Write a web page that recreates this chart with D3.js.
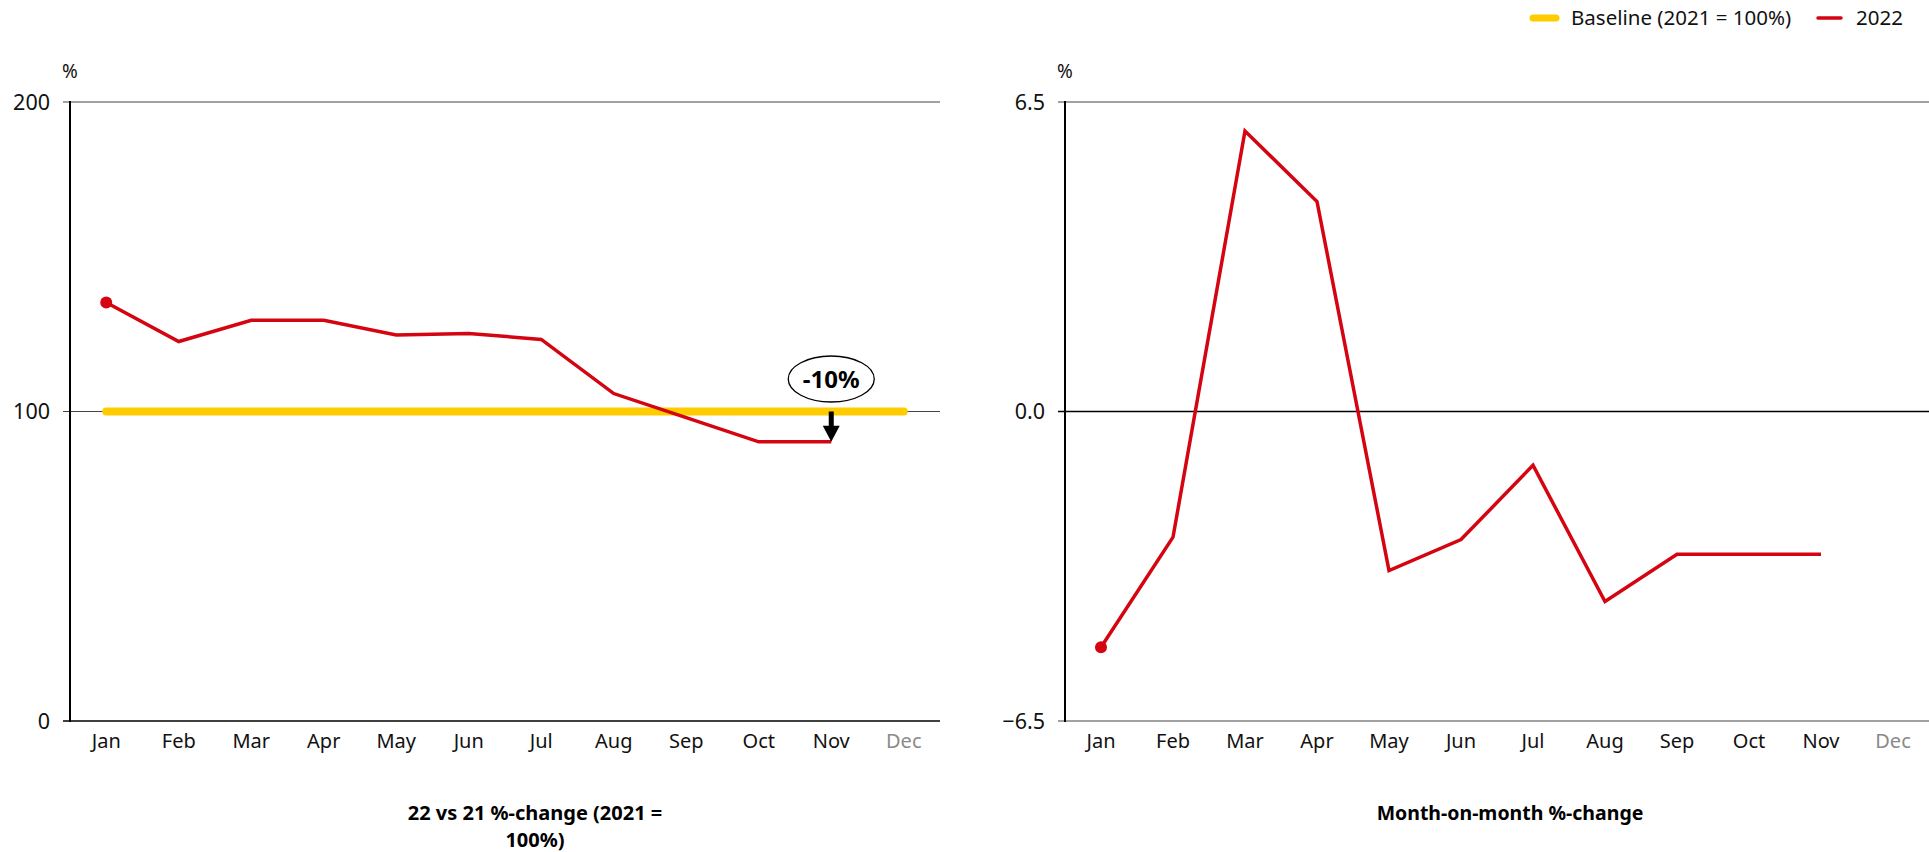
<!DOCTYPE html>
<html>
<head>
<meta charset="utf-8">
<script src="https://cdn.jsdelivr.net/npm/d3@7"></script>
<style>
  body { margin: 0; background: #fff; }
  svg { display: block; font-family: "Noto Sans", "Open Sans", sans-serif; }
</style>
</head>
<body>
<svg id="chart" width="1929" height="852"></svg>
<script>
const months = ["Jan","Feb","Mar","Apr","May","Jun","Jul","Aug","Sep","Oct","Nov","Dec"];
const dataMonths = ["Jan","Feb","Mar","Apr","May","Jun","Jul","Aug","Sep","Oct","Nov"];
const yoyValues = [135.2, 122.6, 129.5, 129.5, 124.7, 125.2, 123.3, 105.8, 98.0, 90.2, 90.2];
const baselineValues = [100,100,100,100,100,100,100,100,100,100,100,100];
const momValues = [-4.95, -2.64, 5.89, 4.41, -3.34, -2.69, -1.13, -3.99, -3.0, -3.0, -3.0];
const leftTicks = [0, 100, 200];
const rightTicks = [-6.5, 0, 6.5];
const leftTitle = ["22 vs 21 %-change (2021 =", "100%)"];
const rightTitle = ["Month-on-month %-change"];
const legendItems = [{label: "Baseline (2021 = 100%)", color: "#ffcc00", w: 7}, {label: "2022", color: "#d40511", w: 3.5}];
const annotationText = "-10%";

const RED = "#d40511", YELLOW = "#ffcc00";
const svg = d3.select("#chart");

function panel(opts) {
  const g = svg.append("g");
  const x = d3.scalePoint().domain(months).range([opts.x0, opts.x1]).padding(0.5);
  const y = d3.scaleLinear().domain(opts.domain).range([721, 102]);

  opts.ticks.forEach(t => {
    g.append("line").attr("x1", opts.x0 - 7).attr("x2", opts.x1)
      .attr("y1", y(t)).attr("y2", y(t))
      .attr("stroke", opts.strong(t) ? "#000" : "#444")
      .attr("stroke-width", opts.strong(t) ? 1.6 : 1);
    g.append("text").attr("x", opts.x0 - 20).attr("y", y(t)).attr("dy", "0.35em")
      .attr("text-anchor", "end").attr("font-size", 21.5).attr("fill", "#111")
      .text(opts.fmt(t));
  });
  g.append("line").attr("x1", opts.x0).attr("x2", opts.x0).attr("y1", 101).attr("y2", 722)
    .attr("stroke", "#000").attr("stroke-width", 2);
  g.append("text").attr("x", opts.x0).attr("y", 78).attr("text-anchor", "middle")
    .attr("font-size", 19).attr("fill", "#111").text("%");
  months.forEach(m => {
    g.append("text").attr("x", x(m)).attr("y", 748).attr("text-anchor", "middle")
      .attr("font-size", 20).attr("fill", m === "Dec" ? "#8a8a8a" : "#111").text(m);
  });
  opts.title.forEach((t, i) => {
    g.append("text").attr("x", opts.titleX).attr("y", 820 + i * 27).attr("text-anchor", "middle")
      .attr("font-size", opts.titleSize).attr("font-weight", "bold").attr("fill", "#000").text(t);
  });
  return {g, x, y};
}

const L = panel({x0: 70, x1: 940, domain: [0, 200], ticks: leftTicks, fmt: d => d,
  strong: t => t === 0, title: leftTitle, titleX: 535, titleSize: 20});

L.g.append("path").datum(months.map((m, i) => [m, baselineValues[i]]))
  .attr("d", d3.line().x(d => L.x(d[0])).y(d => L.y(d[1])))
  .attr("fill", "none").attr("stroke", YELLOW).attr("stroke-width", 8).attr("stroke-linecap", "round");
L.g.append("path").datum(dataMonths.map((m, i) => [m, yoyValues[i]]))
  .attr("d", d3.line().x(d => L.x(d[0])).y(d => L.y(d[1])))
  .attr("fill", "none").attr("stroke", RED).attr("stroke-width", 3.5);
L.g.append("circle").attr("cx", L.x("Jan")).attr("cy", L.y(yoyValues[0])).attr("r", 6).attr("fill", RED);

const ax = L.x("Nov");
const ayTop = L.y(100), ayBot = L.y(yoyValues[10]);
L.g.append("rect").attr("x", ax - 2.5).attr("y", ayTop).attr("width", 5).attr("height", (ayBot - ayTop) - 14).attr("fill", "#000");
L.g.append("path").attr("d", `M${ax - 8.5},${ayBot - 16} L${ax + 8.5},${ayBot - 16} L${ax},${ayBot} Z`).attr("fill", "#000");
L.g.append("ellipse").attr("cx", ax).attr("cy", 379).attr("rx", 43).attr("ry", 23)
  .attr("fill", "#fff").attr("stroke", "#000").attr("stroke-width", 1.3);
L.g.append("text").attr("x", ax).attr("y", 379).attr("dy", "0.36em").attr("text-anchor", "middle")
  .attr("font-size", 24).attr("font-weight", "bold").attr("fill", "#000").text(annotationText);

const R = panel({x0: 1065, x1: 1929, domain: [-6.5, 6.5], ticks: rightTicks, fmt: d3.format(".1f"),
  strong: t => t === 0, title: rightTitle, titleX: 1510, titleSize: 19.5});

R.g.append("path").datum(dataMonths.map((m, i) => [m, momValues[i]]))
  .attr("d", d3.line().x(d => R.x(d[0])).y(d => R.y(d[1])))
  .attr("fill", "none").attr("stroke", RED).attr("stroke-width", 3.5);
R.g.append("circle").attr("cx", R.x("Jan")).attr("cy", R.y(momValues[0])).attr("r", 6).attr("fill", RED);

const lg = svg.append("g");
const lxs = [1530, 1815];
legendItems.forEach((it, i) => {
  const x0 = lxs[i];
  lg.append("line").attr("x1", x0 + 3).attr("x2", x0 + 26).attr("y1", 18).attr("y2", 18)
    .attr("stroke", it.color).attr("stroke-width", it.w).attr("stroke-linecap", "round");
  lg.append("text").attr("x", x0 + 41).attr("y", 18).attr("dy", "0.35em")
    .attr("font-size", 20.5).attr("fill", "#111").text(it.label);
});
</script>
</body>
</html>
